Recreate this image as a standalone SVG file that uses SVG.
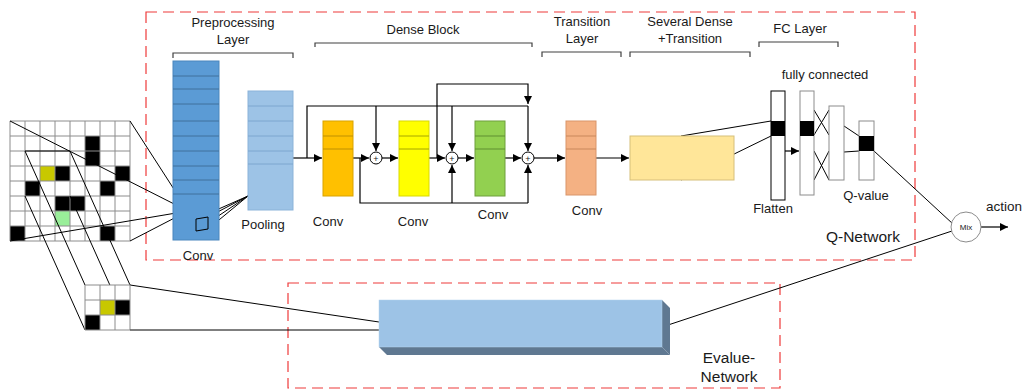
<svg xmlns="http://www.w3.org/2000/svg" width="1023" height="390" viewBox="0 0 1023 390">
<defs>
<marker id="arr" viewBox="0 0 10 10" refX="10" refY="5" markerWidth="8" markerHeight="8" markerUnits="userSpaceOnUse" orient="auto"><path d="M0,0 L10,5 L0,10 z" fill="#000"/></marker>
</defs>
<style>
text{font-family:"Liberation Sans",Arial,sans-serif;fill:#1a1a1a;font-size:13px;text-anchor:middle}
.big{font-size:15.5px}
.ln{stroke:#000;stroke-width:1.2;fill:none}
.thin{stroke:#000;stroke-width:1;fill:none}
.br{stroke:#404040;stroke-width:1.2;fill:none}
.dash{stroke:#ee3a3a;stroke-width:1.2;fill:none;stroke-dasharray:11 6}
.grid{stroke:#8c8c8c;stroke-width:1;fill:none}
.blk{fill:#000}
.sep{stroke-width:1;fill:none}
.col{fill:#fff;stroke:#000;stroke-width:1}
.colg{fill:#fff;stroke:#8c8c8c;stroke-width:1}
.plus{fill:#fff;stroke:#000;stroke-width:1}
</style>
<rect width="1023" height="390" fill="#fff"/>

<!-- network frames -->
<g id="q-network-frame">
<rect class="dash" x="146" y="12" width="769" height="248"/>
<text class="big" x="863" y="242">Q-Network</text>
</g>
<g id="evalue-network-frame">
<rect class="dash" x="288" y="283" width="492" height="105"/>
<text class="big" x="729" y="363">Evalue-</text>
<text class="big" x="729" y="382">Network</text>
</g>

<!-- input grid -->
<g id="input-grid">
<rect x="10" y="121" width="120" height="120" fill="#fff"/>
<rect class="blk" x="85" y="136" width="15" height="30"/>
<rect x="40" y="166" width="15" height="15" fill="#c8c800"/>
<rect class="blk" x="55" y="166" width="15" height="15"/>
<rect class="blk" x="115" y="166" width="15" height="15"/>
<rect class="blk" x="25" y="181" width="15" height="15"/>
<rect class="blk" x="100" y="181" width="15" height="15"/>
<rect class="blk" x="55" y="196" width="30" height="15"/>
<rect x="55" y="211" width="15" height="15" fill="#99ee99"/>
<rect class="blk" x="10" y="226" width="15" height="15"/>
<rect class="blk" x="100" y="226" width="15" height="15"/>
<path class="grid" d="M10,121H130M10,136H130M10,151H130M10,166H130M10,181H130M10,196H130M10,211H130M10,226H130M10,241H130M10,121V241M25,121V241M40,121V241M55,121V241M70,121V241M85,121V241M100,121V241M115,121V241M130,121V241"/>
<path class="thin" d="M25,151H70"/>
</g>

<!-- connectors -->
<g id="connectors">
<path class="thin" d="M10,121L188,211M130,121L188,211M130,241L188,211M10,241L188,211"/>
<path class="thin" d="M25,151L85,285M70,151L130,285M25,196L85,330M70,196L130,330"/>
<path class="thin" d="M130,285L379,322M130,330L379,330"/>
<path class="thin" d="M196,219L248,196M208,217L248,196M196,231L248,196M208,229L248,196"/>
<path class="ln" d="M293,158H322" marker-end="url(#arr)"/>
<path class="ln" d="M307,158V106H528"/>
<path class="ln" d="M376,106V151" marker-end="url(#arr)"/>
<path class="ln" d="M452,106V151" marker-end="url(#arr)"/>
<path class="ln" d="M528,106V151" marker-end="url(#arr)"/>
<path class="ln" d="M437,158V84H528V104" marker-end="url(#arr)"/>
<path class="ln" d="M353,158H369" marker-end="url(#arr)"/>
<path class="ln" d="M360,158V203H528"/>
<path class="ln" d="M452,203V165" marker-end="url(#arr)"/>
<path class="ln" d="M528,203V165" marker-end="url(#arr)"/>
<path class="ln" d="M382,158H398" marker-end="url(#arr)"/>
<path class="ln" d="M429,158H445" marker-end="url(#arr)"/>
<path class="ln" d="M458,158H474" marker-end="url(#arr)"/>
<path class="ln" d="M505,158H521" marker-end="url(#arr)"/>
<path class="ln" d="M534,158H565" marker-end="url(#arr)"/>
<path class="ln" d="M596,158H629" marker-end="url(#arr)"/>
<path class="thin" d="M681,136L771,121M681,180L771,136"/>
<path class="ln" d="M785,151H799" marker-end="url(#arr)"/>
<path class="thin" d="M814,110L829,135M814,135L829,110M814,151L829,180M814,180L829,151"/>
<path class="thin" d="M844,126L859,136M844,152L859,151"/>
<path class="thin" d="M874,151L953,224M662,327L952,231"/>
<path class="ln" d="M981,227H1008" marker-end="url(#arr)"/>
</g>

<!-- preprocessing -->
<g id="preprocessing-label">
<text x="233" y="27">Preprocessing</text>
<text x="233" y="44">Layer</text>
<path class="br" d="M173,58V53H293V58"/>
</g>
<g id="conv1">
<rect x="173" y="61" width="46" height="179" fill="#5b9bd5" stroke="#4a86bd" stroke-width="1"/>
<path class="sep" stroke="#41719c" d="M173,76H219M173,89H219M173,104H219M173,121H219M173,136H219M173,151H219M173,166H219M173,180H219M173,194H219"/>
<path class="thin" d="M196,219L208,217V229L196,231Z"/>
<text x="198" y="260">Conv</text>
</g>
<g id="pooling">
<rect x="248" y="91" width="45" height="119" fill="#9dc3e6" stroke="#8bb3d9" stroke-width="1"/>
<path class="sep" stroke="#7ca6cf" d="M248,106H293M248,121H293M248,136H293M248,151H293M248,164H293"/>
<text x="263" y="229">Pooling</text>
</g>

<!-- dense block -->
<g id="dense-label">
<text x="423" y="34">Dense Block</text>
<path class="br" d="M315,47V43H532V47"/>
</g>
<g id="dense-conv1">
<rect x="323" y="121" width="30" height="75" fill="#ffc000" stroke="#d9a300" stroke-width="1"/>
<path class="sep" stroke="#bf9000" d="M323,136H353M323,149H353"/>
<text x="328" y="226">Conv</text>
</g>
<g id="dense-conv2">
<rect x="399" y="121" width="30" height="75" fill="#ffff00" stroke="#d9d900" stroke-width="1"/>
<path class="sep" stroke="#a6a600" d="M399,136H429M399,149H429"/>
<text x="413" y="226">Conv</text>
</g>
<g id="dense-conv3">
<rect x="475" y="121" width="30" height="75" fill="#92d050" stroke="#6f9f3c" stroke-width="1"/>
<path class="sep" stroke="#5f8f30" d="M475,136H505M475,149H505"/>
<text x="493" y="219">Conv</text>
</g>
<g id="add1"><circle class="plus" cx="376" cy="158" r="6"/><text x="376" y="161.5" style="font-size:9px">+</text></g>
<g id="add2"><circle class="plus" cx="452" cy="158" r="6"/><text x="452" y="161.5" style="font-size:9px">+</text></g>
<g id="add3"><circle class="plus" cx="528" cy="158" r="6"/><text x="528" y="161.5" style="font-size:9px">+</text></g>

<!-- transition -->
<g id="transition">
<text x="582" y="26">Transition</text>
<text x="582" y="43">Layer</text>
<path class="br" d="M542,57V52H621V57"/>
<rect x="566" y="121" width="30" height="74" fill="#f4b183" stroke="#d9956a" stroke-width="1"/>
<path class="sep" stroke="#c9875a" d="M566,136H596M566,149H596"/>
<text x="587" y="215">Conv</text>
</g>
<g id="several">
<text x="690" y="26">Several Dense</text>
<text x="690" y="43">+Transition</text>
<path class="br" d="M630,57V52H750V57"/>
<rect x="630" y="136" width="104" height="44" fill="#ffe699" stroke="#d6bf7a" stroke-width="1"/>
</g>

<!-- fc layer -->
<g id="fc-label">
<text x="800" y="33">FC Layer</text>
<path class="br" d="M759,47V42H838V47"/>
<text x="825" y="79">fully connected</text>
</g>
<g id="flatten">
<rect class="col" x="771" y="91" width="14" height="109"/>
<rect class="blk" x="771" y="121" width="14" height="15"/>
<text x="773" y="213">Flatten</text>
</g>
<g id="fc1">
<rect class="colg" x="800" y="91" width="14" height="104"/>
<rect class="blk" x="800" y="121" width="14" height="15"/>
</g>
<g id="fc2">
<rect class="colg" x="829" y="106" width="15" height="74"/>
</g>
<g id="qvalue">
<rect class="colg" x="859" y="121" width="15" height="59"/>
<rect class="blk" x="859" y="136" width="15" height="15"/>
<text x="866" y="200">Q-value</text>
</g>

<!-- mix -->
<g id="mix">
<circle cx="966" cy="227" r="15" fill="#fff" stroke="#8c8c8c" stroke-width="1"/>
<text x="966" y="230" style="font-size:8px">Mix</text>
<text x="1004" y="211" style="font-size:13.5px">action</text>
</g>

<!-- small grid -->
<g id="window-grid">
<rect x="85" y="285" width="45" height="45" fill="#fff"/>
<rect x="100" y="300" width="15" height="15" fill="#c8c800"/>
<rect class="blk" x="115" y="300" width="15" height="15"/>
<rect class="blk" x="85" y="315" width="15" height="15"/>
<path class="grid" d="M85,285H130M85,300H130M85,315H130M85,330H130M85,285V330M100,285V330M115,285V330M130,285V330"/>
</g>

<!-- evalue box -->
<g id="evalue-box">
<polygon points="662,300 670,308 670,355 662,347" fill="#5f7891"/>
<polygon points="379,347 662,347 670,355 387,355" fill="#5f7891"/>
<rect x="379" y="300" width="283" height="47" fill="#9dc3e6" stroke="#b5d3ee" stroke-width="0.5"/>
</g>
</svg>
